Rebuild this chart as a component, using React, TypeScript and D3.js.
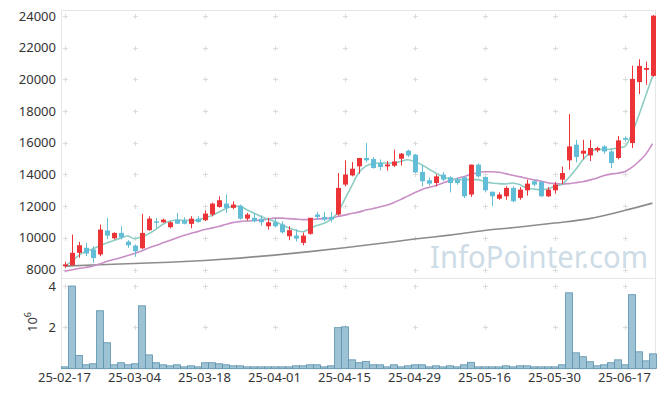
import React, { useRef, useEffect } from "react";
import * as d3 from "d3";

const dates = [
  "25-02-17", "25-02-18", "25-02-19", "25-02-20", "25-02-21", "25-02-24", "25-02-25", "25-02-26", "25-02-27", "25-02-28",
  "25-03-04", "25-03-05", "25-03-06", "25-03-07", "25-03-10", "25-03-11", "25-03-12", "25-03-13", "25-03-14", "25-03-17",
  "25-03-18", "25-03-19", "25-03-20", "25-03-21", "25-03-24", "25-03-25", "25-03-26", "25-03-27", "25-03-28", "25-03-31",
  "25-04-01", "25-04-02", "25-04-03", "25-04-04", "25-04-07", "25-04-08", "25-04-09", "25-04-10", "25-04-11", "25-04-14",
  "25-04-15", "25-04-16", "25-04-17", "25-04-18", "25-04-21", "25-04-22", "25-04-23", "25-04-24", "25-04-25", "25-04-28",
  "25-04-29", "25-04-30", "25-05-02", "25-05-07", "25-05-08", "25-05-09", "25-05-12", "25-05-13", "25-05-14", "25-05-15",
  "25-05-16", "25-05-19", "25-05-20", "25-05-21", "25-05-22", "25-05-23", "25-05-26", "25-05-27", "25-05-28", "25-05-29",
  "25-05-30", "25-06-02", "25-06-04", "25-06-05", "25-06-09", "25-06-10", "25-06-11", "25-06-12", "25-06-13", "25-06-16",
  "25-06-17", "25-06-18", "25-06-19", "25-06-20", "25-06-23",
];

const opens = [
  8210, 8270, 9050, 9370, 9260, 8950, 10460, 9970, 10310, 9760,
  9510, 9340, 10480, 11040, 10980, 10670, 11150, 11090, 10880, 11210,
  11110, 11470, 11950, 12160, 11890, 12030, 11210, 11260, 11200, 10730,
  10980, 10840, 10100, 10140, 9680, 10250, 11470, 11320, 11320, 11470,
  13360, 13940, 14510, 15040, 14970, 14720, 14510, 14550, 14990, 15500,
  15250, 14160, 13630, 13460, 13990, 13820, 13670, 13820, 12730, 14620,
  13840, 12910, 12470, 12620, 13150, 12520, 13000, 13570, 13530, 12620,
  13000, 13670, 14890, 15880, 15310, 15200, 15520, 15770, 15450, 15040,
  16300, 15980, 19830, 20600, 20220,
];
const highs = [
  8490, 10200, 9750, 9680, 9470, 10840, 11260, 10350, 10730, 9850,
  9580, 11510, 11360, 11260, 11200, 11040, 11570, 11300, 11360, 11350,
  11740, 12220, 12620, 12730, 12300, 12100, 11570, 11570, 11420, 11260,
  11200, 11040, 10730, 10540, 10330, 11260, 11640, 11640, 11640, 14090,
  14890, 14780, 15040, 15980, 15100, 14950, 14850, 15560, 15350, 15560,
  15300, 14600, 13800, 14000, 14150, 13880, 13800, 13880, 14620, 14700,
  13880, 12910, 12870, 13250, 13250, 13200, 13670, 13670, 13580, 13200,
  13530, 14500, 17810, 16190, 16190, 16190, 15750, 15850, 15560, 16420,
  16400, 20870, 21270, 21120, 24060,
];
const lows = [
  8110, 8250, 8740, 8840, 8420, 8840, 9930, 9900, 9890, 9360,
  8800, 9300, 10450, 10630, 10950, 10600, 10860, 10850, 10600, 10950,
  11060, 11350, 11900, 11570, 11800, 11150, 11080, 10980, 10770, 10520,
  10650, 10270, 9850, 9760, 9530, 10200, 11150, 11040, 10980, 11400,
  13250, 13880, 14040, 14760, 14360, 14250, 14250, 14470, 14560, 15100,
  14090, 13250, 13300, 13250, 13570, 12870, 13350, 12510, 12580, 13800,
  12870, 11990, 12400, 12400, 12240, 12400, 12660, 13250, 12580, 12580,
  12790, 13360, 14300, 14760, 14950, 14850, 15400, 15310, 14400, 14950,
  16100, 15670, 19070, 19660, 20160,
];
const closes = [
  8320, 9050, 9530, 9010, 8720, 10520, 10140, 10310, 10020, 9530,
  9150, 10310, 11210, 11000, 11150, 10980, 10890, 10890, 11210, 11000,
  11530, 12160, 12370, 11890, 12100, 11210, 11470, 11050, 10980, 10980,
  10730, 10350, 10480, 9950, 10140, 11260, 11320, 11150, 11150, 13150,
  13990, 14360, 15040, 14890, 14410, 14470, 14630, 14820, 15310, 15200,
  14130, 13570, 13420, 13880, 13670, 13460, 13460, 12620, 14620, 13880,
  13000, 12620, 12730, 13150, 12310, 13040, 13420, 13360, 12620, 13040,
  13360, 14090, 15770, 15100, 15500, 15670, 15670, 15450, 14720, 16150,
  16190, 20030, 20850, 20720, 24020,
];

// volume, millions of shares
const volumes = [
  0.08, 4.0, 0.63, 0.18, 0.23, 2.8, 1.25, 0.18, 0.28, 0.18,
  0.23, 3.04, 0.66, 0.28, 0.18, 0.13, 0.18, 0.08, 0.13, 0.08,
  0.28, 0.28, 0.23, 0.18, 0.13, 0.13, 0.08, 0.08, 0.08, 0.08,
  0.08, 0.08, 0.08, 0.13, 0.13, 0.18, 0.18, 0.08, 0.13, 1.98,
  2.02, 0.42, 0.28, 0.34, 0.18, 0.18, 0.08, 0.18, 0.08, 0.13,
  0.18, 0.18, 0.08, 0.13, 0.08, 0.13, 0.08, 0.18, 0.3, 0.08,
  0.08, 0.08, 0.08, 0.13, 0.08, 0.13, 0.13, 0.08, 0.08, 0.08,
  0.08, 0.18, 3.67, 0.76, 0.57, 0.33, 0.13, 0.18, 0.28, 0.42,
  0.18, 3.58, 0.81, 0.37, 0.71,
];

// moving averages
const ma5 = [
  8220, 8500, 8880, 9130, 9290, 9480, 9670, 9830, 9980, 10110,
  9950, 10050, 10250, 10520, 10840, 11040, 11110, 11110, 11090, 11110,
  11260, 11400, 11610, 11830, 11990, 11990, 11780, 11570, 11360, 11190,
  11040, 10840, 10630, 10480, 10380, 10560, 10770, 10900, 11150, 11570,
  12410, 13250, 14090, 14510, 14680, 14720, 14720, 14720, 14820, 14930,
  14820, 14620, 14360, 14090, 13880, 13720, 13670, 13670, 13670, 13670,
  13560, 13460, 13420, 13400, 13460, 13360, 13150, 13080, 13040, 13080,
  13250, 13360, 13780, 14300, 14890, 15350, 15600, 15560, 15600, 15670,
  15750, 16510, 17670, 18930, 20190,
];
const ma20 = [
  7890, 7970, 8060, 8130, 8210, 8350, 8500, 8630, 8740, 8880,
  9010, 9170, 9360, 9510, 9670, 9830, 9990, 10140, 10270, 10390,
  10520, 10610, 10710, 10840, 10960, 11020, 11060, 11090, 11120, 11180,
  11240, 11240, 11210, 11180, 11150, 11150, 11180, 11210, 11240, 11340,
  11430, 11530, 11620, 11750, 11840, 11940, 12060, 12220, 12410, 12630,
  12850, 13040, 13170, 13290, 13450, 13610, 13730, 13860, 13990, 14110,
  14170, 14170, 14140, 14050, 13950, 13860, 13760, 13670, 13580, 13480,
  13420, 13390, 13420, 13480, 13540, 13640, 13760, 13920, 14020, 14080,
  14170, 14430, 14800, 15250, 15940,
];
const ma60Idx = [0, 5, 10, 15, 20, 25, 30, 35, 40, 45, 50, 55, 60, 65, 70, 75, 80, 84];
const ma60 = [8210, 8300, 8380, 8460, 8570, 8720, 8910, 9130, 9370, 9640, 9920, 10170, 10460, 10680, 10930, 11210, 11720, 12190];

const priceTicks = [8000, 10000, 12000, 14000, 16000, 18000, 20000, 22000, 24000];
const volTicks = [2, 4];

const W = 665;
const H = 396;
const left = 61;
const right = 656;
const priceTop = 10;
const priceBottom = 278;
const volBottom = 368.5;

const UP = "#ec3338";
const DOWN = "#62bdd7";
const FONT = "'Noto Sans', 'DejaVu Sans', sans-serif";

export default function App() {
  const svgRef = useRef<SVGSVGElement>(null);

  useEffect(() => {
    document.body.style.margin = "0";
    const svg = d3.select(svgRef.current);
    svg.selectAll("*").remove();

    const x = d3.scaleBand().domain(dates).range([left, right]).padding(0);
    const cx = (i: number) => (x(dates[i]) as number) + x.bandwidth() / 2;
    const y = d3.scaleLinear().domain([8000, 24000]).range([269.5, 16]);
    const yv = d3.scaleLinear().domain([0, 4]).range([volBottom, 286]);

    // frames
    const frame = svg.append("g").attr("fill", "none").attr("stroke", "#e6e6e6");
    frame.append("rect").attr("x", left + 0.5).attr("y", priceTop + 0.5)
      .attr("width", right - left - 1).attr("height", priceBottom - priceTop);
    frame.append("rect").attr("x", left + 0.5).attr("y", priceBottom + 0.5)
      .attr("width", right - left - 1).attr("height", volBottom - priceBottom);

    // watermark
    svg.append("text")
      .attr("x", 430).attr("y", 268)
      .attr("font-family", FONT).attr("font-size", 30)
      .attr("fill", "#cddce6")
      .attr("textLength", 218).attr("lengthAdjust", "spacingAndGlyphs")
      .text("InfoPointer.com");

    // grid crosses
    const tickIdx = dates.map((_, i) => i).filter((i) => i % 10 === 0);
    const cross = svg.append("g").attr("stroke", "#dcdcdc").attr("stroke-width", 1);
    const crossAt = (px: number, py: number) => {
      cross.append("line").attr("x1", px - 2.5).attr("x2", px + 2.5).attr("y1", py).attr("y2", py);
      cross.append("line").attr("x1", px).attr("x2", px).attr("y1", py - 2.5).attr("y2", py + 2.5);
    };
    tickIdx.forEach((i) => {
      priceTicks.forEach((p) => crossAt(Math.round(cx(i)) + 0.5, Math.round(y(p)) + 0.5));
      volTicks.forEach((v) => crossAt(Math.round(cx(i)) + 0.5, Math.round(yv(v)) + 0.5));
    });

    // volume bars
    svg.append("g")
      .selectAll("rect")
      .data(volumes)
      .join("rect")
      .attr("x", (_, i) => (x(dates[i]) as number) + 0.5)
      .attr("y", (d) => yv(d))
      .attr("width", x.bandwidth())
      .attr("height", (d) => volBottom - yv(d))
      .attr("fill", "#9cc2d3")
      .attr("stroke", "#5c93ae")
      .attr("stroke-width", 0.8);

    // moving averages
    const line = d3.line<number>().x((_, i) => cx(i)).y((d) => y(d)).curve(d3.curveMonotoneX);
    const line60 = d3.line<number>().x((_, k) => cx(ma60Idx[k])).y((d) => y(d)).curve(d3.curveMonotoneX);
    svg.append("path").attr("d", line60(ma60)).attr("fill", "none").attr("stroke", "#8c8c8c").attr("stroke-width", 1.6);
    svg.append("path").attr("d", line(ma20)).attr("fill", "none").attr("stroke", "#c98ec6").attr("stroke-width", 1.6);
    svg.append("path").attr("d", line(ma5)).attr("fill", "none").attr("stroke", "#8ccdc3").attr("stroke-width", 1.6);

    // candles
    const candles = svg.append("g")
      .selectAll("g")
      .data(dates.map((_, i) => i))
      .join("g")
      .attr("fill", (i) => (closes[i] >= opens[i] ? UP : DOWN))
      .attr("stroke", (i) => (closes[i] >= opens[i] ? UP : DOWN));
    candles.append("line")
      .attr("x1", (i) => Math.round(cx(i)) + 0.5)
      .attr("x2", (i) => Math.round(cx(i)) + 0.5)
      .attr("y1", (i) => y(highs[i]))
      .attr("y2", (i) => y(lows[i]))
      .attr("stroke-width", 1);
    candles.append("rect")
      .attr("x", (i) => Math.round(cx(i)) - 2)
      .attr("width", 5)
      .attr("y", (i) => y(Math.max(opens[i], closes[i])))
      .attr("height", (i) => Math.max(1.5, Math.abs(y(opens[i]) - y(closes[i]))))
      .attr("stroke", "none");

    // axes labels
    const yAxis = svg.append("g")
      .attr("font-family", FONT).attr("font-size", 13).attr("fill", "#333")
      .attr("text-anchor", "end");
    priceTicks.forEach((p) => {
      yAxis.append("text").attr("x", 56).attr("y", y(p)).attr("dy", "0.35em").text(String(p));
    });
    volTicks.forEach((v) => {
      yAxis.append("text").attr("x", 56).attr("y", yv(v)).attr("dy", "0.35em").text(String(v));
    });

    const lab = svg.append("text")
      .attr("transform", "translate(37,322) rotate(-90)")
      .attr("font-family", FONT).attr("font-size", 13).attr("fill", "#333")
      .attr("text-anchor", "middle");
    lab.append("tspan").text("10");
    lab.append("tspan").attr("font-size", 9).attr("dy", -6).text("6");

    const xAxis = svg.append("g")
      .attr("font-family", FONT).attr("font-size", 13).attr("fill", "#333")
      .attr("text-anchor", "middle");
    tickIdx.forEach((i) => {
      xAxis.append("text").attr("x", cx(i)).attr("y", 382).text(dates[i]);
    });
  }, []);

  return <svg ref={svgRef} width={W} height={H} style={{ display: "block" }}></svg>;
}
